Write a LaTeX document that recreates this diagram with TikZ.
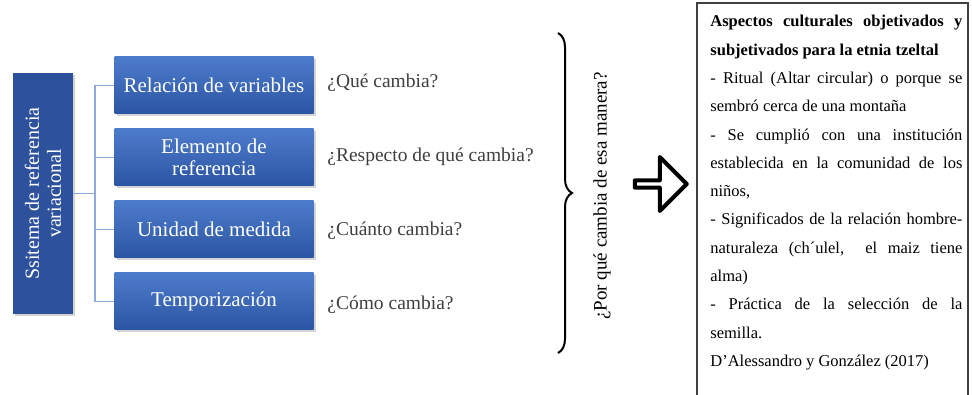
\documentclass[tikz,border=0pt]{standalone}
\usepackage{fontspec}
\setmainfont{Liberation Serif}
\usetikzlibrary{positioning,shadows,shapes.arrows,decorations.pathreplacing}

\definecolor{boxtop}{HTML}{4D7BCB}
\definecolor{boxbottom}{HTML}{2B55A3}
\definecolor{sidebox}{HTML}{2E519C}
\definecolor{linkblue}{HTML}{8EAADB}
\definecolor{asktext}{HTML}{3F3F3F}

\begin{document}
\begin{tikzpicture}[x=1pt,y=-1pt,node distance=72pt,thick,
    main box/.style={minimum width=199pt,minimum height=57pt,inner sep=2pt,align=center,text=white,
        top color=boxtop,bottom color=boxbottom,font=\fontsize{21}{22}\selectfont,
        drop shadow={shadow xshift=2pt,shadow yshift=-2pt,opacity=0.35}},
    ask/.style={anchor=west,inner sep=0pt,text=asktext,font=\fontsize{19.5}{22}\selectfont},
    link/.style={draw=linkblue,line width=1.6pt},
    brace/.style={decorate,decoration={brace,amplitude=14pt},line width=2pt}]
            \useasboundingbox (0,0) rectangle (972,395);

            \node[minimum width=241pt,minimum height=60pt,rotate=90,fill=sidebox,text=white,align=center,
                font=\fontsize{20}{22}\selectfont,
                drop shadow={shadow xshift=2pt,shadow yshift=-2pt,opacity=0.35}] (1) at (43,193.5)
                {Ssitema de referencia\\variacional};

            \node[main box] (2) at (214,85.5){Relación de variables};
            \node[main box] (3) [below of = 2]{Elemento de\\referencia};
            \node[main box] (4) [below of = 3]{Unidad de medida};
            \node[main box] (5) [below of = 4]{Temporización};

            \coordinate (6) at (95,193.5);
            \draw[link] (1) -- (6);
            \foreach \n in {2,...,5}
                \draw[link] (6) |- (\n);

            \node[ask] (7) at (327,83){¿Qué cambia?};
            \node[ask] (8) at (327,157){¿Respecto de qué cambia?};
            \node[ask] (9) at (327,231){¿Cuánto cambia?};
            \node[ask] (10) at (327,305){¿Cómo cambia?};

            \coordinate (11) at (558,33);
            \coordinate (12) at (558,353);
            \draw[brace] (11) -- (12);

            \node[rotate=90,font=\fontsize{19}{21}\selectfont] (13) at (602,196){¿Por qué cambia de esa manera?};

            \node[single arrow,draw,line width=4pt,line join=round,minimum height=52pt,minimum width=54pt,
                single arrow head extend=13pt,outer sep=0pt,inner sep=0pt] (14) at (659,184){};

            \draw[line width=1.3pt,draw=black!75] (697,3) rectangle (968,402);
            \node[anchor=north west,text width=252pt,align=justify,inner sep=0pt,
                font=\fontsize{16.5}{28.3}\selectfont] (15) at (710,15)
                {\textbf{Aspectos culturales objetivados y\linebreak subjetivados para la etnia tzeltal}\par
                - Ritual (Altar circular) o porque se\linebreak sembró cerca de una montaña\par
                - Se cumplió con una institución\linebreak establecida en la comunidad de los\linebreak niños,\par
                - Significados de la relación hombre-\linebreak naturaleza (ch´ulel,\ \ el maiz tiene\linebreak alma)\par
                - Práctica de la selección de la\linebreak semilla.\par
                D’Alessandro y González (2017)};
        \end{tikzpicture}
\end{document}
